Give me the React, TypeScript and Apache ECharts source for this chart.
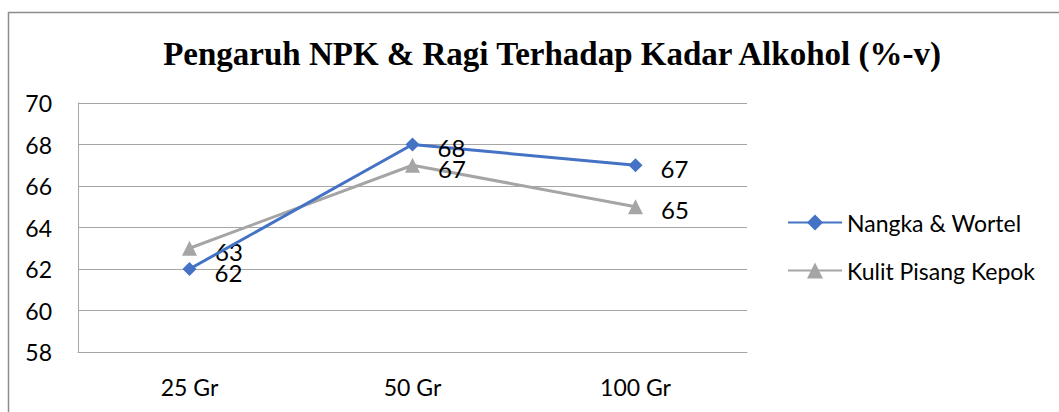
import React, { useEffect, useRef } from "react";
import * as echarts from "echarts";

const categories = ["25 Gr", "50 Gr", "100 Gr"];
const nangkaWortel = [62, 68, 67];
const kulitPisang = [63, 67, 65];
const seriesNames = ["Nangka & Wortel", "Kulit Pisang Kepok"];
const titleText = "Pengaruh NPK & Ragi Terhadap Kadar Alkohol (%-v)";

export default function App() {
  const ref = useRef<HTMLDivElement>(null);
  useEffect(() => {
    if (!ref.current) return;
    const chart = echarts.init(ref.current, null, { renderer: "svg" });
    const font = "Lato, 'Open Sans', sans-serif";
    const labelCommon = {
      show: true,
      position: "right" as const,
      distance: 18,
      offset: [0, 3],
      color: "#000",
      fontFamily: font,
      fontSize: 24,
    };
    chart.setOption({
      animation: false,
      backgroundColor: "#fff",
      title: {
        text: titleText,
        left: 547,
        textAlign: "center",
        top: 32,
        textStyle: {
          fontFamily: "'Liberation Serif', 'Times New Roman', serif",
          fontWeight: "bold",
          fontSize: 33,
          color: "#000",
        },
      },
      graphic: [
        {
          type: "rect",
          shape: { x: 8.5, y: 12.5, width: 1200, height: 600 },
          style: { fill: "none", stroke: "#8c8c8c", lineWidth: 1.5 },
          silent: true,
        },
      ],
      grid: { left: 78, right: 312, top: 103, bottom: 60 },
      legend: {
        orient: "vertical",
        left: 787,
        top: 211,
        padding: 0,
        itemWidth: 54,
        itemHeight: 20,
        itemGap: 25,
        textStyle: { fontFamily: font, fontSize: 23, color: "#000" },
        data: seriesNames,
      },
      xAxis: {
        type: "category",
        data: categories,
        boundaryGap: true,
        axisLine: { show: true, lineStyle: { color: "#a6a6a6", width: 1 } },
        axisTick: { show: false },
        axisLabel: {
          color: "#000",
          fontFamily: font,
          fontSize: 23,
          margin: 23,
        },
      },
      yAxis: {
        type: "value",
        min: 58,
        max: 70,
        interval: 2,
        axisLine: { show: true, lineStyle: { color: "#a6a6a6", width: 1 } },
        axisTick: { show: false },
        splitLine: { show: true, lineStyle: { color: "#a6a6a6", width: 1 } },
        axisLabel: {
          color: "#000",
          fontFamily: font,
          fontSize: 23,
          margin: 26,
        },
      },
      series: [
        {
          name: seriesNames[0],
          type: "line",
          data: nangkaWortel,
          symbol: "diamond",
          symbolSize: 14,
          lineStyle: { color: "#4472C4", width: 3 },
          itemStyle: { color: "#4472C4" },
          label: labelCommon,
          z: 3,
        },
        {
          name: seriesNames[1],
          type: "line",
          data: kulitPisang,
          symbol: "triangle",
          symbolSize: 15,
          lineStyle: { color: "#A5A5A5", width: 3 },
          itemStyle: { color: "#A5A5A5" },
          label: labelCommon,
          z: 2,
        },
      ],
    });
    return () => chart.dispose();
  }, []);
  return (
    <div
      ref={ref}
      style={{ position: "fixed", left: 0, top: 0, width: 1059, height: 412 }}
    />
  );
}
